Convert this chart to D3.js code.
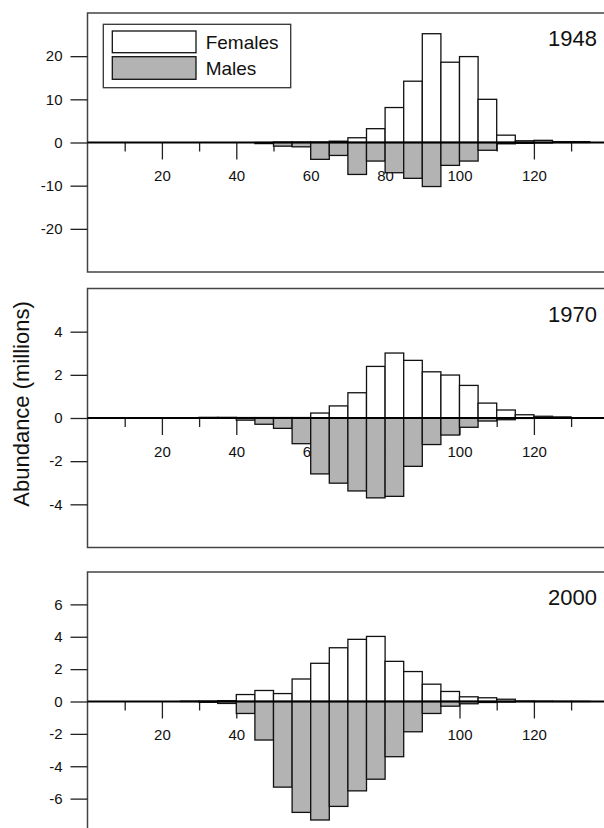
<!DOCTYPE html>
<html>
<head>
<meta charset="utf-8">
<script src="https://cdn.jsdelivr.net/npm/d3@7"></script>
<style>
  body { margin: 0; background: #fff; }
  svg { display: block; font-family: "Liberation Sans", Arial, sans-serif; }
</style>
</head>
<body>
<div id="chart"></div>
<script>
// lower edge of each 5-unit size class
const sizeBins = [0, 5, 10, 15, 20, 25, 30, 35, 40, 45, 50, 55, 60, 65,
  70, 75, 80, 85, 90, 95, 100, 105, 110, 115, 120, 125, 130, 135];
const binWidth = 5;

const years = ["1948", "1970", "2000"];

// abundance (millions), males stored as positive and drawn downwards
const females1948 = [0, 0, 0, 0, 0, 0, 0, 0, 0, 0, 0.1, 0.1, 0.1, 0.3,
  1.1, 3.2, 8.1, 14.2, 25.2, 18.6, 19.9, 10.0, 1.7, 0.4, 0.5, 0.2, 0.2, 0];
const males1948 = [0, 0, 0, 0, 0, 0, 0, 0, 0, 0.25, 0.85, 1.0, 3.9, 3.0,
  7.4, 4.3, 7.0, 8.3, 10.2, 5.3, 4.3, 1.8, 0.3, 0.2, 0.1, 0, 0, 0];

const females1970 = [0, 0, 0, 0, 0, 0, 0.03, 0.03, 0.02, 0.02, 0.02, 0.02, 0.23, 0.56,
  1.17, 2.39, 3.01, 2.67, 2.14, 1.99, 1.51, 0.69, 0.37, 0.15, 0.08, 0.05, 0.01, 0];
const males1970 = [0, 0, 0, 0, 0, 0, 0, 0, 0.1, 0.29, 0.48, 1.19, 2.59, 3.02,
  3.38, 3.70, 3.63, 2.24, 1.23, 0.79, 0.43, 0.14, 0.08, 0.02, 0, 0, 0, 0];

const females2000 = [0, 0, 0, 0, 0, 0.02, 0.02, 0.05, 0.43, 0.68, 0.49, 1.39, 2.36, 3.32,
  3.84, 4.02, 2.48, 1.85, 1.07, 0.62, 0.29, 0.23, 0.14, 0.03, 0.02, 0.01, 0.01, 0];
const males2000 = [0, 0, 0, 0, 0, 0, 0.05, 0.12, 0.74, 2.38, 5.29, 6.85, 7.32, 6.48,
  5.52, 4.80, 3.41, 1.87, 0.74, 0.29, 0.14, 0.06, 0.03, 0, 0, 0, 0, 0];

const yMax = [30, 6, 8];
const yTicks = [[-20, -10, 0, 10, 20], [-4, -2, 0, 2, 4], [-6, -4, -2, 0, 2, 4, 6]];
const xMajorTicks = [20, 40, 60, 80, 100, 120];
const xMinorTicks = [10, 30, 50, 70, 90, 110, 130];

const femaleSeries = [females1948, females1970, females2000];
const maleSeries = [males1948, males1970, males2000];

const width = 604, height = 828;
const left = 87.5, right = 608.3;
const panelTops = [13, 288.5, 572];
const panelHeight = 259;
const grey = "#b3b3b3";
const fmt = d => String(d); // plain hyphen minus, like the original

const svg = d3.select("#chart")
  .append("svg")
  .attr("width", width)
  .attr("height", height);

const x = d3.scaleLinear().domain([0, 140]).range([left, right]);

years.forEach((year, p) => {
  const top = panelTops[p];
  const y = d3.scaleLinear()
    .domain([-yMax[p], yMax[p]])
    .range([top + panelHeight, top]);

  const g = svg.append("g");

  // frame
  g.append("rect")
    .attr("x", left)
    .attr("y", top)
    .attr("width", right - left)
    .attr("height", panelHeight)
    .attr("fill", "none")
    .attr("stroke", "#444")
    .attr("stroke-width", 1.5);

  // y axis
  const ya = g.append("g")
    .attr("transform", `translate(${left},0)`)
    .call(d3.axisLeft(y).tickValues(yTicks[p]).tickSize(17).tickPadding(8).tickFormat(fmt));
  ya.select(".domain").remove();
  ya.selectAll("line").attr("stroke", "#222").attr("stroke-width", 1.3);
  ya.selectAll("text").attr("font-size", 15).attr("fill", "#111")
    .style("font-family", "'Liberation Sans', Arial, sans-serif");

  // x axis on the zero line (drawn under the bars, as in the original)
  const xa = g.append("g")
    .attr("transform", `translate(0,${y(0)})`)
    .call(d3.axisBottom(x).tickValues(xMajorTicks).tickSize(17).tickPadding(11).tickFormat(fmt));
  xa.select(".domain").remove();
  xa.selectAll("line").attr("stroke", "#222").attr("stroke-width", 1.3);
  xa.selectAll("text").attr("font-size", 15).attr("fill", "#111")
    .style("font-family", "'Liberation Sans', Arial, sans-serif");

  const xm = g.append("g")
    .attr("transform", `translate(0,${y(0)})`)
    .call(d3.axisBottom(x).tickValues(xMinorTicks).tickSize(9).tickFormat(""));
  xm.select(".domain").remove();
  xm.selectAll("line").attr("stroke", "#222").attr("stroke-width", 1.3);

  const fem = sizeBins.map((b, i) => ({ b, v: femaleSeries[p][i] })).filter(d => d.v > 0);
  const mal = sizeBins.map((b, i) => ({ b, v: maleSeries[p][i] })).filter(d => d.v > 0);

  g.selectAll(".female")
    .data(fem)
    .join("rect")
    .attr("class", "female")
    .attr("x", d => x(d.b))
    .attr("width", d => x(d.b + binWidth) - x(d.b))
    .attr("y", d => y(d.v))
    .attr("height", d => y(0) - y(d.v))
    .attr("fill", "#fff")
    .attr("stroke", "#111")
    .attr("stroke-width", 1.3);

  g.selectAll(".male")
    .data(mal)
    .join("rect")
    .attr("class", "male")
    .attr("x", d => x(d.b))
    .attr("width", d => x(d.b + binWidth) - x(d.b))
    .attr("y", y(0))
    .attr("height", d => y(-d.v) - y(0))
    .attr("fill", grey)
    .attr("stroke", "#111")
    .attr("stroke-width", 1.3);

  // zero line
  g.append("line")
    .attr("x1", left)
    .attr("x2", right)
    .attr("y1", y(0))
    .attr("y2", y(0))
    .attr("stroke", "#000")
    .attr("stroke-width", 2);

  // year label
  g.append("text")
    .attr("x", 597)
    .attr("y", top + 33)
    .attr("text-anchor", "end")
    .attr("font-size", 22)
    .attr("fill", "#111")
    .text(year);

  // legend only in the first panel
  if (p === 0) {
    const lg = g.append("g").attr("transform", `translate(103.3,${top + 11.3})`);
    lg.append("rect")
      .attr("width", 187.4).attr("height", 63.4)
      .attr("fill", "#fff").attr("stroke", "#333").attr("stroke-width", 1.3);
    lg.append("rect")
      .attr("x", 9).attr("y", 6.7).attr("width", 83.7).attr("height", 21.7)
      .attr("fill", "#fff").attr("stroke", "#111").attr("stroke-width", 1.3);
    lg.append("rect")
      .attr("x", 9).attr("y", 32.4).attr("width", 83.7).attr("height", 22.6)
      .attr("fill", grey).attr("stroke", "#111").attr("stroke-width", 1.3);
    lg.append("text")
      .attr("x", 102.4).attr("y", 25).attr("font-size", 19).attr("fill", "#111")
      .text("Females");
    lg.append("text")
      .attr("x", 102.4).attr("y", 51).attr("font-size", 19).attr("fill", "#111")
      .text("Males");
  }
});

// shared y axis title
svg.append("text")
  .attr("transform", "translate(29,404) rotate(-90)")
  .attr("text-anchor", "middle")
  .attr("font-size", 22)
  .attr("fill", "#111")
  .text("Abundance (millions)");
</script>
</body>
</html>
